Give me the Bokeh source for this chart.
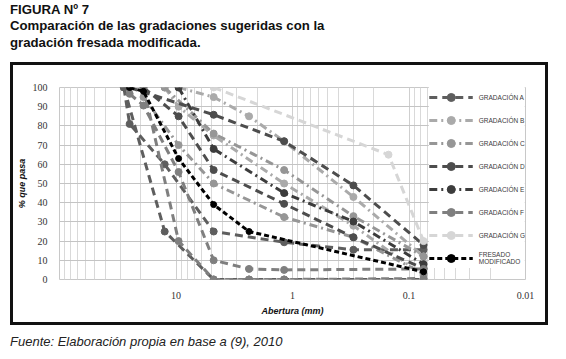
import numpy as np
from bokeh.plotting import figure
from bokeh.layouts import column
from bokeh.models import (Range1d, FixedTicker, Legend, LegendItem, Div)
from bokeh.embed import file_html
from bokeh.resources import INLINE

# ---- data (None separates the upper and lower limit of a band) ----
sieve_A = [28, 12.5, 4.75, 2.36, 1.18, 0.075, None, 28, 25, 12.5, 4.75, 1.18, 0.3, 0.075]
pass_A = [100, 25, 0, 0, 0, 0, None, 100, 81, 60, 25, 19.4, 15.5, 15.5]

sieve_B = [9.5, 4.75, 2.36, 1.18, 0.3, 0.075, None, 12.5, 9.5, 4.75, 1.18, 0.3, 0.075]
pass_B = [100, 95, 85, 72, 43, 12, None, 100, 90, 75, 50, 28, 2]

sieve_C = [12.5, 4.75, 1.18, 0.3, 0.075, None, 19, 9.5, 4.75, 1.18, 0.3, 0.075]
pass_C = [100, 76, 57, 33, 12, None, 95, 70, 50, 32.5, 22, 3]

sieve_D = [25, 4.75, 1.18, 0.3, 0.075, None, 19, 9.5, 4.75, 1.18, 0.3, 0.075]
pass_D = [100, 85.8, 72, 49, 18, None, 100, 85, 57, 39.4, 22, 5.7]

sieve_E = [9.5, 4.75, 1.18, 0.3, 0.075]
pass_E = [100, 68, 45, 30.2, 8]

sieve_F = [25, 19, 9.5, 4.75, 2.36, 1.18, 0.075, None, 19, 9.5, 4.75, 2.36, 1.18, 0.075]
pass_F = [96.7, 90.6, 56, 10, 5.5, 5, 5.5, None, 100, 20, 0, 0, 0, 0.5]

sieve_G = [4.75, 0.15, 0.075]
pass_G = [100, 65, 20]

sieve_fresado = [25, 19, 9.5, 4.75, 2.36, 0.075]
pass_fresado = [100, 98, 63, 39, 25, 4]

series_names = ["GRADACIÓN A", "GRADACIÓN B", "GRADACIÓN C", "GRADACIÓN D",
                "GRADACIÓN E", "GRADACIÓN F", "GRADACIÓN G", "FRESADO\nMODIFICADO"]
x_tick_values = [10, 1, 0.1, 0.01]
x_tick_labels = ["10", "1", "0.1", "0.01"]
y_tick_values = [0, 10, 20, 30, 40, 50, 60, 70, 80, 90, 100]

styles = [
    ("#5e5e5e", "8 5", 6),
    ("#aaaaaa", "8 4 2 4", 6),
    ("#969696", "8 4 2 4", 6),
    ("#4d4d4d", "8 5", 6),
    ("#3c3c3c", "8 4 2 4", 6),
    ("#7f7f7f", "8 5", 6),
    ("#d6d6d6", "8 5", 6),
    ("#000000", "5 3", 5),
]
data = [(sieve_A, pass_A), (sieve_B, pass_B), (sieve_C, pass_C), (sieve_D, pass_D),
        (sieve_E, pass_E), (sieve_F, pass_F), (sieve_G, pass_G), (sieve_fresado, pass_fresado)]

# canvas: page (13,65) .. (551,328) inside a 3px black border
W, H = 538, 263
p = figure(width=W, height=H, x_axis_type="log",
           x_range=Range1d(100, 0.01), y_range=Range1d(0, 100),
           output_backend="svg", toolbar_location=None,
           min_border_left=45, min_border_right=26, min_border_top=22, min_border_bottom=49,
           margin=(0, 0, 0, 10),
           styles={"border": "3px solid #111111", "outline": "1px solid #d6d6d6",
                   "outline-offset": "-5px"})
p.background_fill_color = "white"
p.border_fill_color = "white"
p.outline_line_color = "#c8c8c8"

minor = []
for dec in [10, 1, 0.1, 0.01]:
    minor += [dec * k for k in range(2, 10)]
p.xaxis.ticker = FixedTicker(ticks=[100] + x_tick_values, minor_ticks=minor)
p.xaxis.major_label_overrides = {100: "", **{v: l for v, l in zip(x_tick_values, x_tick_labels)}}
p.yaxis.ticker = FixedTicker(ticks=y_tick_values)

p.xgrid.grid_line_color = "#cfcfcf"
p.xgrid.minor_grid_line_color = "#d9d9d9"
p.ygrid.grid_line_color = "#c4c4c4"

for ax in (p.xaxis[0], p.yaxis[0]):
    ax.axis_line_color = None
    ax.major_tick_line_color = None
    ax.minor_tick_line_color = None
    ax.major_tick_out = 0
    ax.major_tick_in = 0
    ax.minor_tick_out = 0
    ax.minor_tick_in = 0
    ax.major_label_text_font = "Liberation Serif"
    ax.major_label_text_font_size = "10px"
    ax.major_label_text_color = "#333333"
    ax.axis_label_text_font = "Liberation Sans"
    ax.axis_label_text_font_size = "9px"
    ax.axis_label_text_font_style = "bold italic"
    ax.axis_label_text_color = "#111111"
p.xaxis.axis_label = "Abertura (mm)"
p.yaxis.axis_label = "% que pasa"
p.xaxis.major_label_standoff = 12
p.xaxis.axis_label_standoff = 4
p.yaxis.major_label_standoff = 12
p.yaxis.axis_label_standoff = 3

items = []
for name, (xs, ys), (col, dash, ms) in zip(series_names, data, styles):
    x = np.array([np.nan if v is None else v for v in xs], dtype=float)
    y = np.array([np.nan if v is None else v for v in ys], dtype=float)
    lr = p.line(x, y, line_color=col, line_width=3, line_dash=dash)
    sr = p.scatter(x, y, size=ms + 1, marker="circle", fill_color=col, line_color=col)
    items.append(LegendItem(label=name, renderers=[lr, sr]))

legend = Legend(items=items, location="top_right")
legend.background_fill_color = "white"
legend.background_fill_alpha = 1
legend.border_line_color = None
legend.label_text_font = "Liberation Sans"
legend.label_text_font_size = "6.5px"
legend.label_text_color = "#3a3a3a"
legend.glyph_width = 44
legend.glyph_height = 20
legend.label_height = 20
legend.spacing = 3
legend.padding = 1
legend.margin = 0
legend.label_standoff = 6
p.add_layout(legend)

title_div = Div(
    text="FIGURA Nº 7<br>Comparación de las gradaciones sugeridas con la<br>gradación fresada modificada.",
    width=500, height=60, margin=(2, 0, 0, 10),
    styles={"font-family": "Liberation Sans", "font-size": "13.2px", "font-weight": "bold",
            "line-height": "16.4px", "color": "#111111"})
foot_div = Div(
    text="Fuente: Elaboración propia en base a (9), 2010",
    width=420, height=16, margin=(9, 0, 0, 10),
    styles={"font-family": "Liberation Sans", "font-size": "13px", "font-style": "italic",
            "line-height": "15px", "color": "#222222"})

layout = column(title_div, p, foot_div, spacing=0)

open("out.html", "w").write(file_html(layout, INLINE))
